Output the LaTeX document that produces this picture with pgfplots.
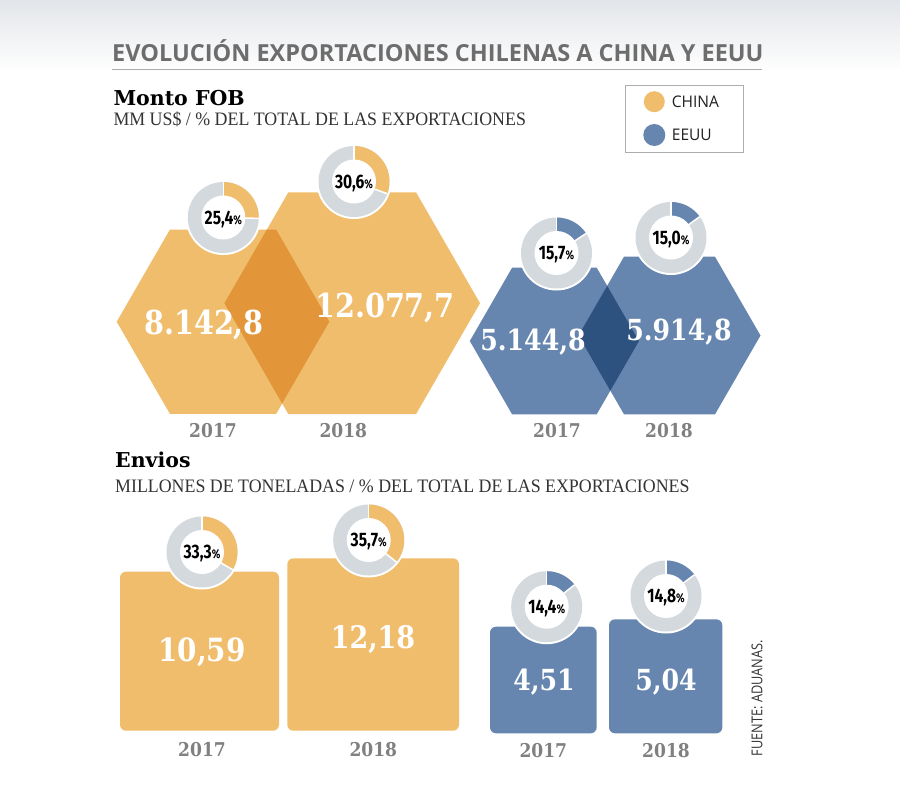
\documentclass[border=0pt]{standalone}
\usepackage{fontspec}
\usepackage{pgfplots}
\pgfplotsset{compat=1.18}
\setmainfont{DejaVu Serif}
\newfontfamily\numfont{DejaVu Serif}[FakeStretch=0.87]
\newfontfamily\yearfont{DejaVu Serif}[FakeStretch=0.9]
\newfontfamily\headfont{DejaVu Serif}
\newfontfamily\subfont{Liberation Serif}[FakeStretch=0.94]
\newfontfamily\titlefont{Open Sans}
\newfontfamily\legfont{Open Sans}[FakeStretch=0.97]
\newfontfamily\pctfont{Fira Sans}[FakeStretch=0.8]
\newfontfamily\srcfont{Open Sans}[FakeStretch=0.85]
\definecolor{cnor}{HTML}{F0BD6C}
\definecolor{cnord}{HTML}{E3953A}
\definecolor{usb}{HTML}{6786AF}
\definecolor{usbd}{HTML}{2E5280}
\definecolor{dgray}{HTML}{D4D9DE}
\definecolor{yeargray}{HTML}{808080}
\definecolor{titlegray}{HTML}{6D6D6D}
\definecolor{bgtop}{HTML}{E2E5E9}
% donut: cx, cy, percent, colour
\newcommand{\donut}[4]{%
  \fill[white] (axis cs:#1,#2) circle[radius=37.5pt];
  \fill[dgray] (axis cs:#1,#2) circle[radius=35.5pt];
  \fill[#4] (axis cs:#1,#2) -- ++(90:35.5pt) arc[start angle=90, delta angle={-3.6*#3}, radius=35.5pt] -- cycle;
  \draw[white, line width=1.5pt] (axis cs:#1,#2) -- ++(90:35.6pt);
  \draw[white, line width=1.5pt] (axis cs:#1,#2) -- ++({90-3.6*#3}:35.6pt);
  \fill[white] (axis cs:#1,#2) circle[radius=22pt];
}
\newcommand{\pct}[3]{% cx, cy, label
  \node[anchor=base, inner sep=0pt, font=\pctfont\bfseries\fontsize{19.5}{19.5}\selectfont] at (axis cs:#1,#2+6.9) {#3{\fontsize{12.5}{12.5}\selectfont\%}};
}
\begin{document}
\begin{tikzpicture}
\begin{axis}[x=1pt, y=1pt, xmin=0, xmax=900, ymin=0, ymax=788, y dir=reverse,
  hide axis, clip=false, no markers]
% background
\fill[white] (axis cs:0,0) rectangle (axis cs:900,788);
\fill[top color=bgtop, bottom color=white] (axis cs:0,0) rectangle (axis cs:900,72);
% title
\node[anchor=base west, inner sep=0pt, text=titlegray, font=\titlefont\bfseries\fontsize{23.5}{24}\selectfont] at (axis cs:112,61.7) {EVOLUCIÓN EXPORTACIONES CHILENAS A CHINA Y EEUU};
\draw[black!33, line width=1.8pt] (axis cs:112,69.5) -- (axis cs:762,69.5);
% section headings
\node[anchor=base west, inner sep=0pt, font=\headfont\bfseries\fontsize{20.5}{21}\selectfont] at (axis cs:113.3,105) {Monto FOB};
\node[anchor=base west, inner sep=0pt, text=black!80, font=\subfont\fontsize{19}{19}\selectfont] at (axis cs:113.3,125) {MM US\$ / \% DEL TOTAL DE LAS EXPORTACIONES};
\node[anchor=base west, inner sep=0pt, font=\headfont\bfseries\fontsize{20.5}{21}\selectfont] at (axis cs:115,467.3) {Envios};
\node[anchor=base west, inner sep=0pt, text=black!80, font=\subfont\fontsize{19}{19}\selectfont] at (axis cs:115,492.3) {MILLONES DE TONELADAS / \% DEL TOTAL DE LAS EXPORTACIONES};
% legend
\draw[black!32, line width=1pt, fill=white] (axis cs:625,85) rectangle (axis cs:743,152);
\fill[cnor] (axis cs:654.3,101.7) circle[radius=10.5pt];
\fill[usb] (axis cs:654.3,135) circle[radius=11pt];
\node[anchor=base west, inner sep=0pt, text=black!88, font=\legfont\fontsize{16}{16}\selectfont] at (axis cs:671.7,107.3) {CHINA};
\node[anchor=base west, inner sep=0pt, text=black!88, font=\legfont\fontsize{16}{16}\selectfont] at (axis cs:671.7,140.5) {EEUU};
% ---- Monto FOB hexagons ----
\addplot[fill=cnor, draw=none] coordinates {(116.7,321.7) (169.9,229.6) (276.2,229.6) (329.3,321.7) (276.2,413.8) (169.9,413.8)} -- cycle;
\addplot[fill=cnor, draw=none] coordinates {(224.4,303.2) (288.3,192.4) (416.1,192.4) (480,303.2) (416.1,414) (288.3,414)} -- cycle;
\addplot[fill=cnord, draw=none] coordinates {(266.8,229.6) (276.2,229.6) (329.3,321.7) (282.1,403.5) (224.4,303.2)} -- cycle;
\addplot[fill=usb, draw=none] coordinates {(469.8,341) (512.1,267.7) (596.7,267.7) (639,341) (596.7,414.3) (512.1,414.3)} -- cycle;
\addplot[fill=usb, draw=none] coordinates {(578.5,335.5) (624,256.7) (715,256.7) (760.5,335.5) (715,414.3) (624,414.3)} -- cycle;
\addplot[fill=usbd, draw=none] coordinates {(607.2,285.9) (639,341) (610.3,390.7) (578.5,335.5)} -- cycle;
% values
\node[anchor=base, inner sep=0pt, text=white, font=\numfont\bfseries\fontsize{33}{33}\selectfont] at (axis cs:204,334) {8.142,8};
\node[anchor=base, inner sep=0pt, text=white, font=\numfont\bfseries\fontsize{33}{33}\selectfont] at (axis cs:385,317) {12.077,7};
\node[anchor=base, inner sep=0pt, text=white, font=\numfont\bfseries\fontsize{29}{29}\selectfont] at (axis cs:533,350) {5.144,8};
\node[anchor=base, inner sep=0pt, text=white, font=\numfont\bfseries\fontsize{29}{29}\selectfont] at (axis cs:679,340) {5.914,8};
% donuts
\donut{223.3}{217.5}{25.4}{cnor}
\donut{354}{181.5}{30.6}{cnor}
\donut{556.5}{253}{15.7}{usb}
\donut{671}{237.5}{15.0}{usb}
\pct{223.3}{217.5}{25,4}
\pct{354}{181.5}{30,6}
\pct{556.5}{253}{15,7}
\pct{671}{237.5}{15,0}
% years
\node[anchor=base, inner sep=0pt, text=yeargray, font=\yearfont\bfseries\fontsize{19}{19}\selectfont] at (axis cs:213,437) {2017};
\node[anchor=base, inner sep=0pt, text=yeargray, font=\yearfont\bfseries\fontsize{19}{19}\selectfont] at (axis cs:343.3,437) {2018};
\node[anchor=base, inner sep=0pt, text=yeargray, font=\yearfont\bfseries\fontsize{19}{19}\selectfont] at (axis cs:557,437) {2017};
\node[anchor=base, inner sep=0pt, text=yeargray, font=\yearfont\bfseries\fontsize{19}{19}\selectfont] at (axis cs:669,437) {2018};
% ---- Envios squares ----
\addplot[fill=cnor, draw=none, rounded corners=6pt] coordinates {(120,571.7) (279,571.7) (279,730.7) (120,730.7)} -- cycle;
\addplot[fill=cnor, draw=none, rounded corners=6pt] coordinates {(287.3,558.3) (459,558.3) (459,730.7) (287.3,730.7)} -- cycle;
\addplot[fill=usb, draw=none, rounded corners=6pt] coordinates {(490,626.7) (596.7,626.7) (596.7,733.3) (490,733.3)} -- cycle;
\addplot[fill=usb, draw=none, rounded corners=6pt] coordinates {(609,619.3) (722.3,619.3) (722.3,733.3) (609,733.3)} -- cycle;
\node[anchor=base, inner sep=0pt, text=white, font=\numfont\bfseries\fontsize{32}{32}\selectfont] at (axis cs:202,661) {10,59};
\node[anchor=base, inner sep=0pt, text=white, font=\numfont\bfseries\fontsize{31}{31}\selectfont] at (axis cs:373,648) {12,18};
\node[anchor=base, inner sep=0pt, text=white, font=\numfont\bfseries\fontsize{29}{29}\selectfont] at (axis cs:544,690) {4,51};
\node[anchor=base, inner sep=0pt, text=white, font=\numfont\bfseries\fontsize{29}{29}\selectfont] at (axis cs:666,690) {5,04};
\donut{202}{552}{33.3}{cnor}
\donut{368.7}{540}{35.7}{cnor}
\donut{546.7}{606.7}{14.4}{usb}
\donut{666}{596}{14.8}{usb}
\pct{202}{552}{33,3}
\pct{368.7}{540}{35,7}
\pct{546.7}{606.7}{14,4}
\pct{666}{596}{14,8}
\node[anchor=base, inner sep=0pt, text=yeargray, font=\yearfont\bfseries\fontsize{19}{19}\selectfont] at (axis cs:202,756) {2017};
\node[anchor=base, inner sep=0pt, text=yeargray, font=\yearfont\bfseries\fontsize{19}{19}\selectfont] at (axis cs:373.3,756) {2018};
\node[anchor=base, inner sep=0pt, text=yeargray, font=\yearfont\bfseries\fontsize{19}{19}\selectfont] at (axis cs:543.3,757) {2017};
\node[anchor=base, inner sep=0pt, text=yeargray, font=\yearfont\bfseries\fontsize{19}{19}\selectfont] at (axis cs:666,757) {2018};
% source
\node[rotate=90, inner sep=0pt, text=black!80, font=\srcfont\fontsize{15}{15}\selectfont] at (axis cs:757,698) {FUENTE: ADUANAS.};
\end{axis}
\end{tikzpicture}
\end{document}
